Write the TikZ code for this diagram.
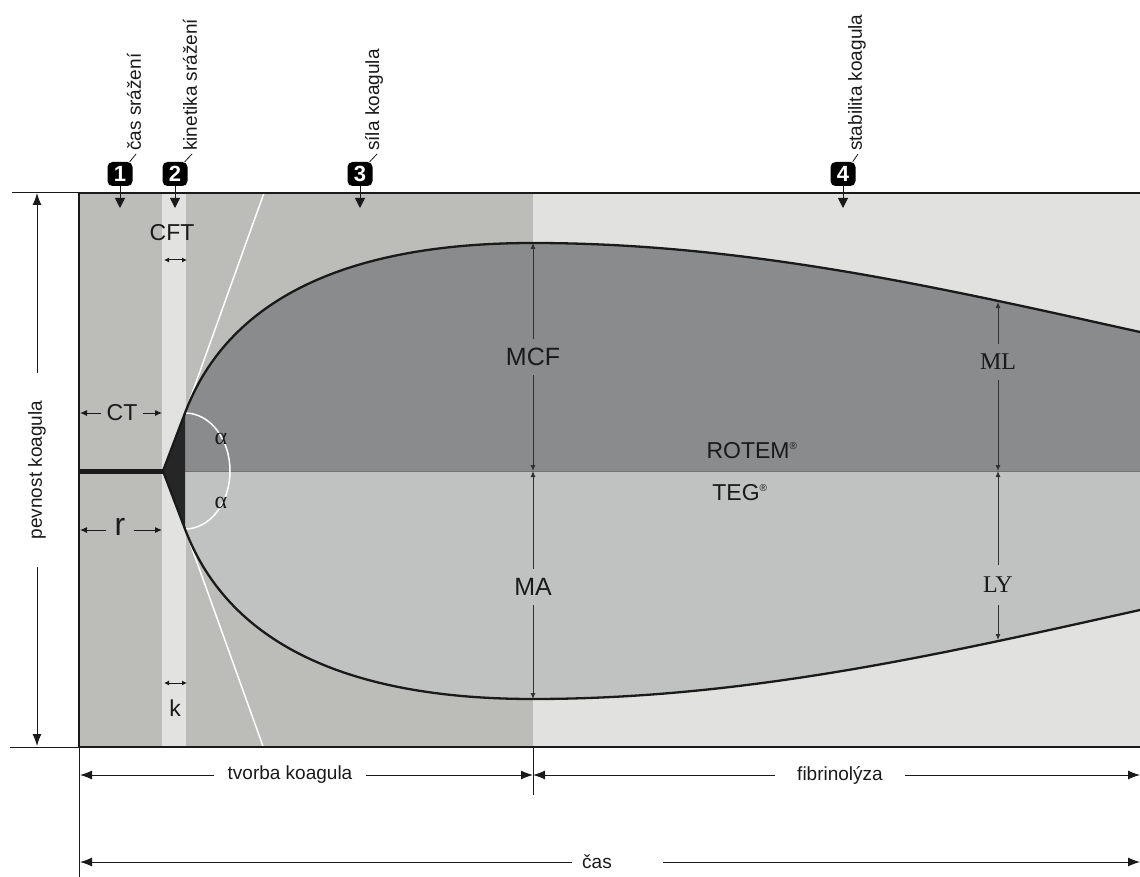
\documentclass[tikz,border=0pt]{standalone}
\usepackage{fontspec}
\setmainfont{Liberation Sans}
\newfontfamily\serifont{Liberation Serif}
\usetikzlibrary{arrows.meta}
\definecolor{midgray}{HTML}{BCBDB8}
\definecolor{stripgray}{HTML}{E2E3E1}
\definecolor{lightbg}{HTML}{E1E2E0}
\definecolor{rotem}{HTML}{8A8B8D}
\definecolor{teg}{HTML}{BFC2C1}
\definecolor{ink}{HTML}{1A1A1A}
\begin{document}
\begin{tikzpicture}[x=1pt,y=-1pt,
  lab/.style={font=\fontsize{19}{22}\selectfont, text=ink, inner sep=0pt},
  rlab/.style={lab, rotate=90, anchor=west},
  biglab/.style={font=\fontsize{23}{25}\selectfont, text=ink},
  dimlab/.style={font=\fontsize{25}{27}\selectfont, text=ink},
  serlab/.style={font=\serifont\fontsize{24}{26}\selectfont, text=ink},
  numbox/.style={fill=black, rounded corners=5pt, minimum width=25pt, minimum height=24pt, inner sep=0pt, text=white, font=\fontsize{22}{22}\selectfont\bfseries},
  bigarr/.style={line width=1pt, draw=ink, -{Latex[length=12pt,width=9pt]}},
  smarr/.style={line width=1pt, draw=ink, -{Latex[length=7pt,width=6pt]}},
  dimarr/.style={line width=1pt, draw=ink!90, -{Latex[length=6pt,width=5pt]}},
  dblarr/.style={line width=1pt, draw=ink, {Latex[length=5pt,width=5pt]}-{Latex[length=5pt,width=5pt]}},
  boxarr/.style={line width=1pt, draw=ink, -{Triangle[length=10pt,width=10pt]}},
  leader/.style={line width=0.8pt, draw=ink},
  curve/.style={line width=2.3pt, draw=ink},
  whiteline/.style={line width=1.5pt, draw=white},
  alab/.style={font=\serifont\fontsize{24}{24}\selectfont, text=ink},
]
\useasboundingbox (0,0) rectangle (1140,877);
\fill[white] (0,0) rectangle (1140,877);
% backgrounds
\fill[midgray] (79,193) rectangle (533,747);
\fill[stripgray] (162,193) rectangle (186,747);
\fill[lightbg] (533,193) rectangle (1140,747);
% key points
\coordinate (apex) at (163,471);
\coordinate (apexT) at (185,413);
\coordinate (apexB) at (185,529);
\coordinate (tanT) at (264,193);
\coordinate (tanB) at (264,749);
% tangents
\draw[whiteline] (apexT) -- (tanT);
\draw[whiteline] (apexB) -- (tanB);
% fills
\fill[rotem] (185,471) -- (apexT) .. controls (219,323) and (310,243) .. (533,243) .. controls (750,243) and (950,290) .. (1140,332) -- (1140,471) -- cycle;
\fill[teg] (185,471) -- (apexB) .. controls (219,619) and (310,699) .. (533,699) .. controls (750,699) and (950,652) .. (1140,610) -- (1140,471) -- cycle;
\draw[line width=1pt, draw=black!55] (185,471) -- (1140,471);
\fill[black!85] (apex) -- (apexT) -- (apexB) -- cycle;
% alpha arc
\draw[whiteline] (apexT) .. controls (210,413) and (230,439) .. (230,471) .. controls (230,503) and (210,529) .. (apexB);
\node[alab] (a1) at (221,439) {α};
\node[alab] (a2) at (221,503) {α};
% curves
\draw[curve] (apex) -- (apexT) .. controls (219,323) and (310,243) .. (533,243) .. controls (750,243) and (950,290) .. (1140,332);
\draw[curve] (apex) -- (apexB) .. controls (219,619) and (310,699) .. (533,699) .. controls (750,699) and (950,652) .. (1140,610);
% baseline
\draw[line width=5pt, draw=ink] (79,471) -- (apex);
% frame
\draw[line width=1pt, draw=ink] (12,193) -- (79,193);
\draw[line width=2.2pt, draw=ink] (79,193) -- (1140,193);
\draw[line width=1pt, draw=ink] (10,747) -- (79,747);
\draw[line width=2.2pt, draw=ink] (79,747) -- (1140,747);
\draw[line width=2.5pt, draw=ink] (79,192) -- (79,748);
\draw[line width=1pt, draw=ink] (79,747) -- (79,877);
\draw[line width=1pt, draw=ink] (533,747) -- (533,795);
% numbered markers
\node[numbox] (n1) at (120,174) {1};
\node[numbox] (n2) at (175,174) {2};
\node[numbox] (n3) at (360,174) {3};
\node[numbox] (n4) at (843,174) {4};
\coordinate (n1t) at (120,208);
\coordinate (n2t) at (175,208);
\coordinate (n3t) at (360,208);
\coordinate (n4t) at (843,208);
\draw[boxarr] (n1) -- (n1t);
\draw[boxarr] (n2) -- (n2t);
\draw[boxarr] (n3) -- (n3t);
\draw[boxarr] (n4) -- (n4t);
\coordinate (l1) at (136,154);
\coordinate (l2) at (192,154);
\coordinate (l3) at (377,154);
\coordinate (l4) at (858,154);
\draw[leader] ([xshift=-3pt]n1.north east) -- (l1);
\draw[leader] ([xshift=-3pt]n2.north east) -- (l2);
\draw[leader] ([xshift=-3pt]n3.north east) -- (l3);
\draw[leader] ([xshift=-3pt]n4.north east) -- (l4);
\node[rlab] (t1) at (134,151) {čas srážení};
\node[rlab] (t2) at (190,151) {kinetika srážení};
\node[rlab] (t3) at (374,151) {síla koagula};
\node[rlab] (t4) at (857,151) {stabilita koagula};
% pevnost koagula
\node[lab, rotate=90, inner xsep=28pt] (pev) at (37,470) {pevnost koagula};
\coordinate (pevT) at (37,193);
\coordinate (pevB) at (37,746);
\draw[bigarr] (pev) -- (pevT);
\draw[bigarr] (pev) -- (pevB);
% CT and r
\node[biglab, inner xsep=5pt, inner ysep=2pt] (ct) at (122,413) {CT};
\coordinate (ctL) at (80,413);
\coordinate (ctR) at (162,413);
\draw[smarr] (ct) -- (ctL);
\draw[smarr] (ct) -- (ctR);
\node[font=\fontsize{32}{32}\selectfont, text=ink, inner xsep=8pt, inner ysep=2pt] (r) at (120,527) {r};
\coordinate (rL) at (80,530);
\coordinate (rR) at (162,530);
\draw[smarr] (r.west |- rL) -- (rL);
\draw[smarr] (r.east |- rR) -- (rR);
% CFT and k
\node[biglab] (cft) at (172,233) {CFT};
\coordinate (cftL) at (164,260);
\coordinate (cftR) at (187,260);
\draw[dblarr] (cftL) -- (cftR);
\coordinate (kL) at (164,683);
\coordinate (kR) at (187,683);
\draw[dblarr] (kL) -- (kR);
\node[biglab] (k) at (175,708) {k};
% MCF / MA
\node[dimlab, inner ysep=9pt] (mcf) at (533,357) {MCF};
\coordinate (mcfT) at (533,243);
\coordinate (mcfB) at (533,471);
\draw[dimarr] (mcf) -- (mcfT);
\draw[dimarr] (mcf) -- (mcfB);
\node[dimlab, inner ysep=9pt] (ma) at (533,587) {MA};
\coordinate (maT) at (533,471);
\coordinate (maB) at (533,699);
\draw[dimarr] (ma) -- (maT);
\draw[dimarr] (ma) -- (maB);
% ML / LY
\node[serlab, inner ysep=10pt] (ml) at (998,362) {ML};
\coordinate (mlT) at (998,302);
\coordinate (mlB) at (998,471);
\draw[dimarr] (ml) -- (mlT);
\draw[dimarr] (ml) -- (mlB);
\node[serlab, inner ysep=12pt] (ly) at (998,585) {LY};
\coordinate (lyT) at (998,471);
\coordinate (lyB) at (998,640);
\draw[dimarr] (ly) -- (lyT);
\draw[dimarr] (ly) -- (lyB);
% ROTEM / TEG
\node[biglab] (rot) at (752,451) {ROTEM\textsuperscript{\fontsize{10}{10}\selectfont ®}};
\node[biglab] (teg) at (740,493) {TEG\textsuperscript{\fontsize{10}{10}\selectfont ®}};
% bottom dimension arrows
\node[lab, inner xsep=13pt] (tvo) at (290,775) {tvorba koagula};
\coordinate (tvoL) at (80,775);
\coordinate (tvoR) at (533,775);
\draw[bigarr] (tvo) -- (tvoL);
\draw[bigarr] (tvo) -- (tvoR);
\node[lab, inner xsep=22pt] (fib) at (840,775) {fibrinolýza};
\coordinate (fibL) at (533,775);
\coordinate (fibR) at (1140,775);
\draw[bigarr] (fib) -- (fibL);
\draw[bigarr] (fib) -- (fibR);
\node[lab] (cas) at (597,862) {čas};
\coordinate (casLe) at (572,862);
\coordinate (casRe) at (663,862);
\coordinate (casL) at (80,862);
\coordinate (casR) at (1140,862);
\draw[bigarr] (casLe) -- (casL);
\draw[bigarr] (casRe) -- (casR);
\end{tikzpicture}
\end{document}
